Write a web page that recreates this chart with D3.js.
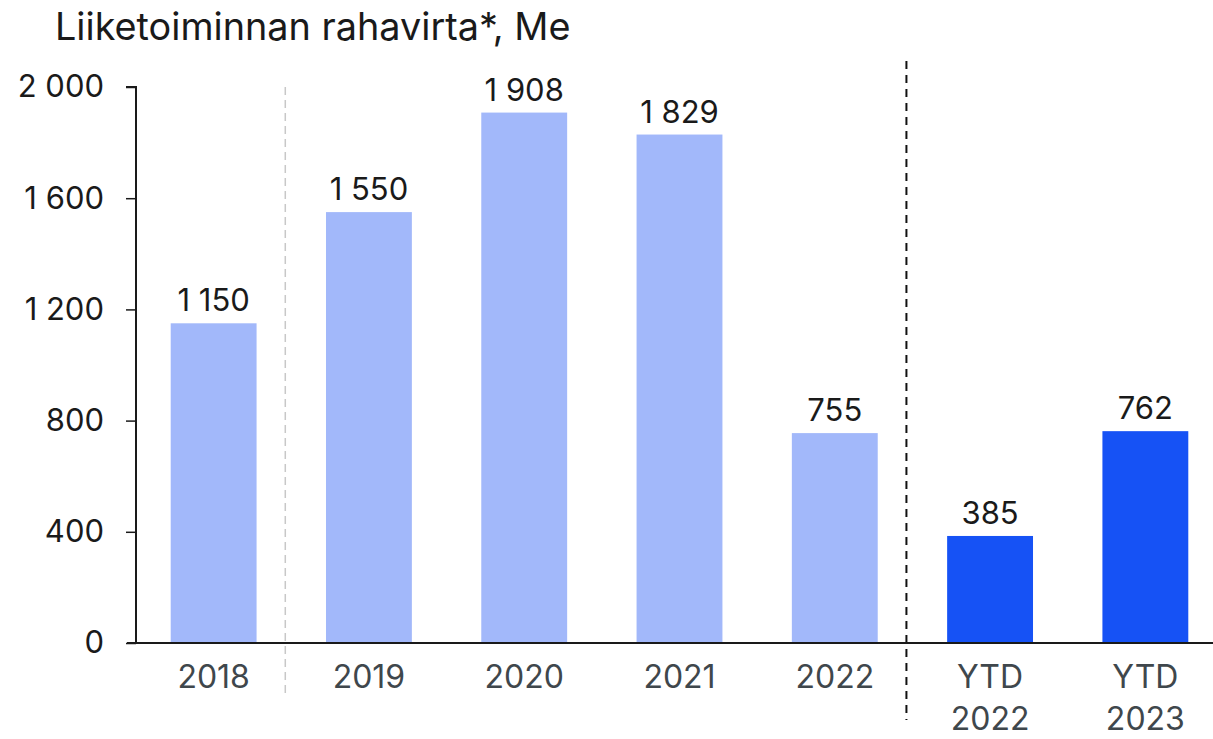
<!DOCTYPE html>
<html><head><meta charset="utf-8">
<script src="https://cdn.jsdelivr.net/npm/d3@7"></script>
<style>body{margin:0;background:#fff}svg{display:block}</style>
</head><body>
<svg id="c" width="1213" height="739"></svg>
<script>
const categories = ["2018","2019","2020","2021","2022","YTD 2022","YTD 2023"];
const values = [1150,1550,1908,1829,755,385,762];
const isYtd = [false,false,false,false,false,true,true];
const yTicks = [0,400,800,1200,1600,2000];
const title = "Liiketoiminnan rahavirta*, Me";

const svg = d3.select("#c");
const font = "Inter, 'Noto Sans', sans-serif";
const loc = d3.formatLocale({decimal:",", thousands:" ", grouping:[3], currency:["","€"]});
const fmt = loc.format(",d");

const x = d3.scaleBand().domain(categories).range([136,1223]).paddingInner(0.447).paddingOuter(0.2235);
const y = d3.scaleLinear().domain([0,2000]).range([643,87]);

svg.append("text").attr("x",55).attr("y",40).attr("font-family",font).attr("font-size",37.8)
  .attr("fill","#1a1a1a").text(title);

// separators
const gapOf = c => x(c) - (x.step()-x.bandwidth())/2 - 6;
svg.append("line").attr("x1",gapOf("2019")).attr("x2",gapOf("2019")).attr("y1",87).attr("y2",695)
  .attr("stroke","#c8c8c8").attr("stroke-width",1.5).attr("stroke-dasharray","8,5");
svg.append("line").attr("x1",gapOf("YTD 2022")).attr("x2",gapOf("YTD 2022")).attr("y1",61).attr("y2",720)
  .attr("stroke","#111").attr("stroke-width",2).attr("stroke-dasharray","8,6");

// bars
svg.selectAll("rect.bar").data(categories).join("rect").attr("class","bar")
  .attr("x",d=>x(d)).attr("width",x.bandwidth())
  .attr("y",(d,i)=>y(values[i])).attr("height",(d,i)=>y(0)-y(values[i]))
  .attr("fill",(d,i)=>isYtd[i]?"#1652F5":"#A2B8FA");

svg.selectAll("text.val").data(categories).join("text").attr("class","val")
  .attr("x",d=>x(d)+x.bandwidth()/2).attr("y",(d,i)=>y(values[i])-12)
  .attr("text-anchor","middle").attr("font-family",font).attr("font-size",31).attr("fill","#1a1a1a")
  .style("white-space","pre")
  .text((d,i)=>fmt(values[i]));

// y axis
const ya = svg.append("g").attr("transform","translate(136,0)")
  .call(d3.axisLeft(y).tickValues(yTicks).tickSize(10).tickPadding(22).tickFormat(fmt));
ya.select(".domain").attr("stroke","#1a1a1a").attr("stroke-width",2).attr("d","M0,643V87H-10");
ya.selectAll(".tick line").attr("stroke","#1a1a1a").attr("stroke-width",1.5);
ya.selectAll(".tick text").attr("font-family",font).attr("font-size",31).attr("fill","#1a1a1a").style("white-space","pre");

// x axis
const xa = svg.append("g").attr("transform","translate(0,643)")
  .call(d3.axisBottom(x).tickSize(0).tickPadding(0).tickFormat(""));
xa.select(".domain").attr("stroke","#1a1a1a").attr("stroke-width",2).attr("d","M127,0H1213");
xa.selectAll(".tick").each(function(d){
  const t = d3.select(this).append("text").attr("font-family",font).attr("font-size",32)
    .attr("fill","#3f474c").attr("text-anchor","middle");
  const parts = d.split(" ");
  parts.forEach((p,i)=>t.append("tspan").attr("x",0).attr("y",45+i*42).text(p));
});
</script>
</body></html>
